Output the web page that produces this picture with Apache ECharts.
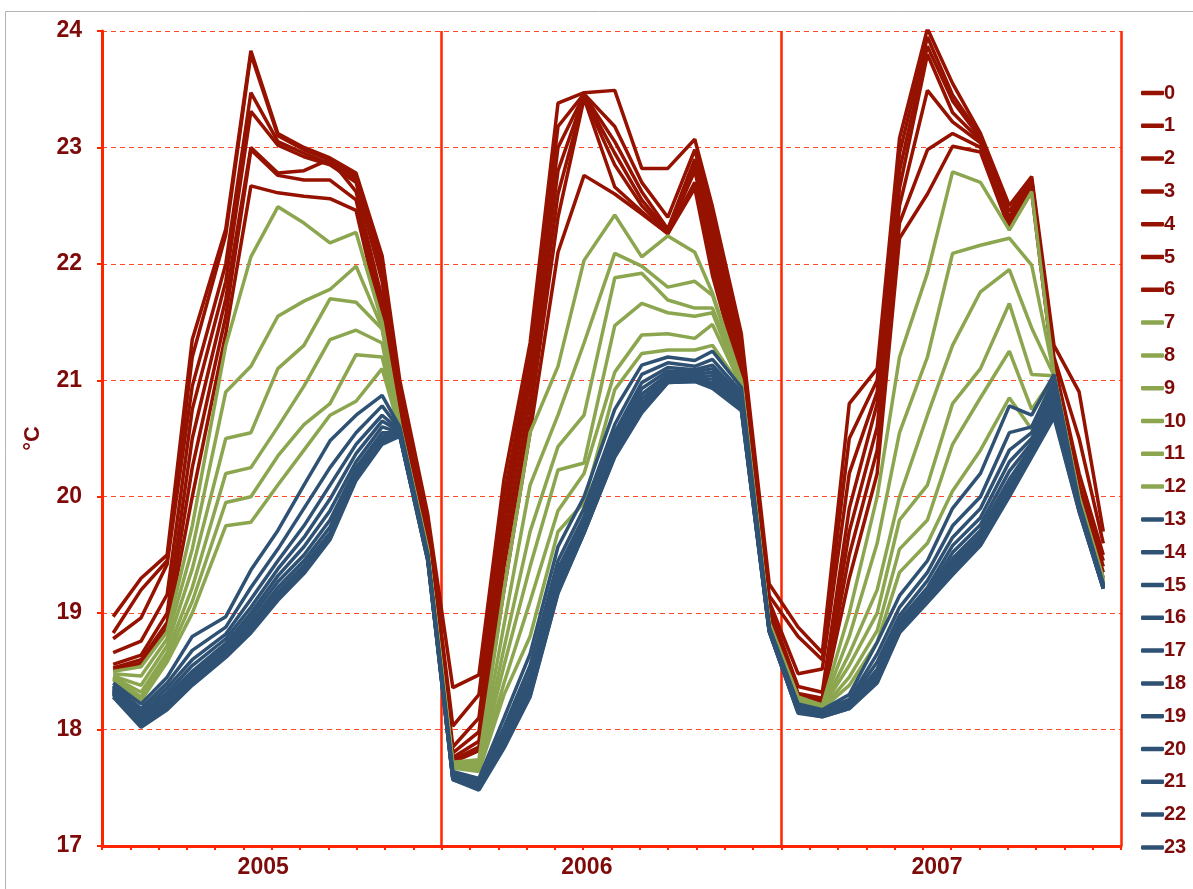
<!DOCTYPE html>
<html><head><meta charset="utf-8">
<script src="https://cdn.jsdelivr.net/npm/echarts@6/dist/echarts.min.js"></script>
<style>html,body{margin:0;padding:0;background:#fff}#c{width:1193px;height:889px}</style>
</head><body><div id="c"></div>
<script>
const seriesNames = ['0','1','2','3','4','5','6','7','8','9','10','11','12','13','14','15','16','17','18','19','20','21','22','23'];
const yearLabels = ['2005','2006','2007'];
const dates2005 = ['2005-01-13','2005-02-12','2005-03-12','2005-04-08','2005-05-14','2005-06-10','2005-07-09','2005-08-06','2005-09-03','2005-10-01','2005-10-29','2005-11-17','2005-12-17'];
const dates2006 = ['2006-01-13','2006-02-10','2006-03-09','2006-04-06','2006-05-06','2006-06-03','2006-07-06','2006-08-04','2006-09-01','2006-09-30','2006-10-19','2006-11-19','2006-12-19'];
const dates2007 = ['2007-01-19','2007-02-14','2007-03-15','2007-04-14','2007-05-08','2007-06-07','2007-07-04','2007-08-03','2007-09-03','2007-09-27','2007-10-21','2007-11-17','2007-12-13'];
// each row: values of series 0..23 at one date
const cols2005 = [
[18.97,18.83,18.78,18.66,18.56,18.53,18.51, 18.50,18.48,18.46,18.45,18.44,18.43, 18.40,18.38,18.37,18.36,18.35,18.34,18.33,18.32,18.31,18.30,18.28],
[19.30,19.20,18.96,18.76,18.64,18.60,18.57, 18.54,18.46,18.38,18.32,18.28,18.25, 18.22,18.18,18.15,18.12,18.10,18.08,18.06,18.05,18.04,18.03,18.02],
[19.50,19.45,19.42,19.16,19.00,18.92,18.87, 18.84,18.78,18.72,18.66,18.62,18.58, 18.45,18.40,18.36,18.32,18.29,18.26,18.23,18.21,18.19,18.18,18.17],
[21.35,21.20,20.95,20.75,20.50,20.25,20.00, 19.75,19.55,19.38,19.22,19.10,19.00, 18.80,18.68,18.60,18.55,18.50,18.47,18.45,18.43,18.41,18.40,18.38],
[22.30,22.25,22.00,21.85,21.70,21.55,21.40, 21.30,20.90,20.50,20.20,19.95,19.75, 18.97,18.88,18.82,18.78,18.74,18.71,18.68,18.66,18.64,18.63,18.62],
[23.83,23.80,23.47,23.31,23.00,22.98,22.67, 22.06,21.12,20.55,20.25,20.00,19.78, 19.37,19.22,19.12,19.05,19.00,18.96,18.92,18.89,18.87,18.85,18.83],
[23.12,23.10,23.05,23.02,22.78,22.76,22.61, 22.49,21.55,21.10,20.60,20.35,20.10, 19.71,19.55,19.45,19.38,19.32,19.27,19.22,19.18,19.15,19.13,19.11],
[23.00,22.98,22.95,22.92,22.80,22.72,22.58, 22.35,21.68,21.30,20.95,20.62,20.40, 20.10,19.90,19.75,19.65,19.57,19.50,19.45,19.41,19.38,19.36,19.34],
[22.91,22.89,22.86,22.85,22.90,22.72,22.56, 22.18,21.78,21.70,21.35,20.80,20.70, 20.48,20.25,20.10,19.98,19.88,19.80,19.74,19.69,19.66,19.64,19.63],
[22.78,22.75,22.73,22.70,22.62,22.55,22.46, 22.27,21.98,21.67,21.43,21.22,20.82, 20.70,20.55,20.45,20.37,20.30,20.25,20.21,20.18,20.16,20.15,20.14],
[22.07,22.00,21.95,21.85,21.70,21.60,21.50, 21.50,21.45,21.44,21.32,21.20,21.10, 20.87,20.78,20.70,20.65,20.60,20.55,20.52,20.50,20.48,20.46,20.45],
[21.00,20.90,20.80,20.75,20.70,20.65,20.62, 20.62,20.60,20.60,20.58,20.58,20.57, 20.60,20.58,20.57,20.56,20.55,20.55,20.54,20.53,20.53,20.52,20.52],
[19.85,19.80,19.75,19.70,19.65,19.60,19.58, 19.55,19.54,19.53,19.52,19.52,19.51, 19.50,19.50,19.49,19.49,19.48,19.48,19.47,19.47,19.46,19.46,19.45]
];
const cols2006 = [
[18.36,18.03,17.85,17.80,17.76,17.74,17.72, 17.72,17.71,17.70,17.69,17.68,17.67, 17.64,17.62,17.61,17.60,17.60,17.59,17.59,17.58,17.58,17.57,17.57],
[18.47,18.30,18.10,17.98,17.90,17.85,17.82, 17.74,17.72,17.70,17.68,17.66,17.64, 17.58,17.56,17.55,17.54,17.53,17.52,17.51,17.50,17.49,17.49,17.48],
[20.15,20.00,19.85,19.70,19.55,19.40,19.20, 19.20,18.90,18.70,18.55,18.40,18.30, 18.10,18.02,17.97,17.94,17.92,17.90,17.88,17.87,17.86,17.85,17.84],
[21.32,21.20,21.10,21.00,20.85,20.70,20.55, 20.55,20.10,19.70,19.40,19.10,18.80, 18.65,18.55,18.48,18.43,18.39,18.36,18.33,18.31,18.30,18.29,18.28],
[23.38,23.18,23.00,22.80,22.60,22.40,22.10, 21.12,20.70,20.43,20.23,19.88,19.70, 19.57,19.45,19.38,19.33,19.29,19.26,19.23,19.21,19.19,19.18,19.17],
[23.47,23.46,23.45,23.44,23.43,23.42,22.76, 22.03,21.32,20.70,20.29,20.20,19.95, 20.00,19.90,19.83,19.78,19.75,19.72,19.70,19.70,19.69,19.69,19.69],
[23.49,23.18,23.05,22.95,22.85,22.66,22.60, 22.42,22.09,21.88,21.47,21.07,20.92, 20.75,20.62,20.55,20.50,20.46,20.43,20.40,20.38,20.36,20.35,20.34],
[22.82,22.70,22.62,22.55,22.50,22.45,22.43, 22.06,21.98,21.92,21.66,21.39,21.23, 21.13,21.05,20.98,20.93,20.88,20.84,20.80,20.77,20.75,20.73,20.72],
[22.82,22.40,22.30,22.28,22.27,22.26,22.26, 22.24,21.80,21.69,21.58,21.40,21.26, 21.20,21.15,21.11,21.08,21.05,21.03,21.01,21.00,20.99,20.98,20.98],
[23.07,22.98,22.90,22.85,22.80,22.70,22.65, 22.10,21.85,21.62,21.55,21.36,21.26, 21.17,21.12,21.09,21.07,21.05,21.03,21.02,21.01,21.00,20.99,20.99],
[22.49,22.40,22.30,22.20,22.10,22.00,21.90, 21.75,21.73,21.62,21.58,21.48,21.30, 21.25,21.18,21.13,21.10,21.07,21.04,21.01,20.98,20.96,20.94,20.93],
[21.40,21.30,21.20,21.15,21.10,21.05,21.00, 21.00,20.98,20.97,20.96,20.95,20.94, 20.94,20.90,20.87,20.84,20.82,20.80,20.78,20.77,20.76,20.75,20.74],
[19.25,19.15,19.10,19.05,19.00,18.95,18.92, 18.92,18.90,18.90,18.89,18.89,18.88, 18.88,18.87,18.87,18.86,18.86,18.85,18.85,18.85,18.84,18.84,18.84]
];
const cols2007 = [
[18.88,18.80,18.48,18.37,18.31,18.30,18.29, 18.28,18.27,18.26,18.25,18.24,18.23, 18.22,18.21,18.20,18.19,18.18,18.17,18.16,18.16,18.15,18.15,18.14],
[18.66,18.60,18.52,18.32,18.27,18.25,18.24, 18.21,18.20,18.19,18.19,18.18,18.18, 18.17,18.16,18.15,18.14,18.14,18.13,18.13,18.12,18.12,18.11,18.11],
[20.80,20.50,20.20,19.90,19.70,19.50,19.30, 19.00,18.80,18.65,18.55,18.45,18.38, 18.30,18.26,18.24,18.22,18.21,18.20,18.20,18.19,18.19,18.18,18.18],
[21.10,21.00,20.90,20.80,20.60,20.40,20.20, 20.00,19.60,19.20,19.00,18.85,18.75, 18.75,18.65,18.58,18.52,18.48,18.46,18.44,18.43,18.42,18.41,18.40],
[23.08,22.95,22.80,22.65,22.50,22.35,22.22, 21.20,20.55,20.00,19.80,19.55,19.35, 19.15,19.05,18.98,18.94,18.91,18.89,18.87,18.86,18.85,18.84,18.83],
[24.02,23.95,23.87,23.80,23.49,22.98,22.60, 21.92,21.20,20.70,20.10,19.80,19.60, 19.45,19.35,19.28,19.22,19.18,19.15,19.13,19.12,19.11,19.10,19.09],
[23.55,23.45,23.40,23.30,23.22,23.12,23.01, 22.79,22.09,21.30,20.80,20.45,20.05, 19.90,19.75,19.65,19.58,19.52,19.47,19.44,19.41,19.38,19.36,19.33],
[23.12,23.10,23.08,23.06,23.04,23.00,22.96, 22.70,22.16,21.76,21.10,20.85,20.40, 20.20,20.00,19.90,19.82,19.76,19.71,19.67,19.64,19.62,19.60,19.58],
[22.50,22.45,22.40,22.38,22.35,22.32,22.30, 22.29,22.22,21.95,21.66,21.25,20.85, 20.78,20.55,20.40,20.30,20.22,20.15,20.10,20.06,20.03,20.01,20.00],
[22.75,22.73,22.72,22.70,22.68,22.65,22.62, 22.62,21.99,21.45,21.05,20.75,20.58, 20.70,20.60,20.55,20.50,20.46,20.43,20.40,20.38,20.36,20.35,20.34],
[21.30,21.20,21.15,21.10,21.08,21.06,21.05, 21.05,21.05,21.04,21.04,21.03,21.03, 21.05,21.00,20.95,20.90,20.86,20.82,20.79,20.76,20.73,20.70,20.68],
[20.90,20.50,20.20,20.10,20.05,20.02,20.00, 20.00,19.99,19.98,19.97,19.96,19.95, 19.95,19.93,19.92,19.91,19.90,19.90,19.89,19.89,19.88,19.88,19.87],
[19.70,19.60,19.50,19.45,19.40,19.35,19.30, 19.30,19.28,19.27,19.26,19.25,19.25, 19.25,19.24,19.24,19.23,19.23,19.22,19.22,19.22,19.21,19.21,19.21]
];

const RED = '#961200', GREEN = '#8ca650', BLUE = '#2f5274';
const TXT = '#7f0a0a', AX = '#ff2400';
const FONT = '"Liberation Sans", Arial, sans-serif';

const allDates = dates2005.concat(dates2006, dates2007);
const allCols = cols2005.concat(cols2006, cols2007);
const monthCats = [];
yearLabels.forEach(y => { for (let m = 1; m <= 12; m++) monthCats.push(y + '-' + m); });

const series = seriesNames.map((name, s) => ({
  name, type: 'line', xAxisIndex: 1, showSymbol: false, symbol: 'none',
  lineStyle: { width: 3.5, color: s <= 6 ? RED : (s <= 12 ? GREEN : BLUE) },
  itemStyle: { color: s <= 6 ? RED : (s <= 12 ? GREEN : BLUE) },
  data: allDates.map((d, i) => [d, allCols[i][s]]),
  animation: false
}));

const labelStyle = { color: TXT, fontWeight: 'bold', fontSize: 23, fontFamily: FONT };
const chart = echarts.init(document.getElementById('c'), null, { renderer: 'canvas' });
chart.setOption({
  backgroundColor: '#fff',
  animation: false,
  graphic: [{ type: 'rect', shape: { x: 5.5, y: 11.5, width: 1300, height: 1000 }, style: { fill: 'none', stroke: '#b4b4b4', lineWidth: 1 }, silent: true }],
  grid: { left: 102, right: 72, top: 31, bottom: 43, containLabel: false },
  legend: {
    orient: 'vertical', left: 1136, top: 78, itemWidth: 23, itemHeight: 4.5, itemGap: 12.8,
    icon: 'roundRect', data: seriesNames,
    textStyle: { color: TXT, fontWeight: 'bold', fontSize: 20, fontFamily: FONT, lineHeight: 20, padding: [0, 0, 0, -5] }
  },
  xAxis: [
    {
      type: 'category', data: monthCats, boundaryGap: true, position: 'bottom',
      axisLine: { show: true, lineStyle: { color: AX, width: 3 } },
      axisTick: { show: true, interval: 0, length: 4, lineStyle: { color: AX, width: 2 } },
      axisLabel: { interval: 0, margin: 10, ...labelStyle,
        rich: {
          a: { ...labelStyle, padding: [0, 0, 0, 11] },
          b: { ...labelStyle, padding: [0, 21, 0, 0] },
          c: { ...labelStyle }
        },
        formatter: (v, i) => (i % 12 === 5 ? '{' + 'abc'[Math.floor(i / 12)] + '|' + yearLabels[Math.floor(i / 12)] + '}' : '') },
      splitLine: { show: true, interval: (i) => i % 12 === 0, lineStyle: { color: AX, width: 2.5 } }
    },
    { type: 'time', min: '2005-01-01', max: '2008-01-01', show: false }
  ],
  yAxis: {
    type: 'value', min: 17, max: 24, interval: 1,
    name: '°C', nameLocation: 'middle', nameRotate: 90, nameGap: 58,
    nameTextStyle: { color: TXT, fontWeight: 'bold', fontSize: 22, fontFamily: FONT },
    axisLine: { show: true, lineStyle: { color: AX, width: 3 } },
    axisTick: { show: true, length: 5, lineStyle: { color: AX, width: 2 } },
    axisLabel: { ...labelStyle, margin: 20 },
    splitLine: { show: true, lineStyle: { color: '#ff4a2a', width: 1, type: [5, 4] } }
  },
  series
});
</script></body></html>
